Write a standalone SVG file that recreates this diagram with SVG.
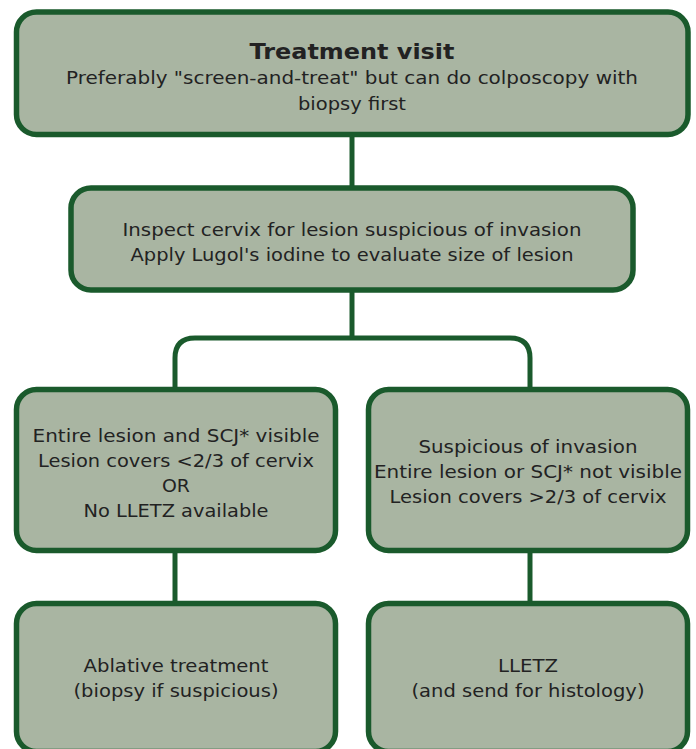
<svg xmlns="http://www.w3.org/2000/svg" width="696" height="749" viewBox="0 0 696 749">
<style>
.box{fill:#a9b5a2;stroke:#1a5a2c;stroke-width:5.5}
.con{fill:none;stroke:#1a5a2c;stroke-width:5}
text{font-family:"DejaVu Sans","Liberation Sans",sans-serif;font-size:18px;fill:#222;text-anchor:middle}
.b{font-weight:bold;font-size:21px}
</style>
<rect width="696" height="749" fill="#fff"/>
<g id="connectors">
<line class="con" x1="352" y1="136" x2="352" y2="188"/>
<line class="con" x1="352" y1="292" x2="352" y2="338"/>
<path class="con" d="M175 390 V358 Q175 338 195 338 H510 Q530 338 530 358 V390"/>
<line class="con" x1="175" y1="552" x2="175" y2="604"/>
<line class="con" x1="530" y1="552" x2="530" y2="604"/>
</g>
<g id="n1">
<rect class="box" x="16.5" y="12" width="671.5" height="122.5" rx="20"/>
<text class="b" x="352" y="59" textLength="205" lengthAdjust="spacingAndGlyphs">Treatment visit</text>
<text x="352" y="84" textLength="572" lengthAdjust="spacingAndGlyphs">Preferably "screen-and-treat" but can do colposcopy with</text>
<text x="352" y="110" textLength="108" lengthAdjust="spacingAndGlyphs">biopsy first</text>
</g>
<g id="n2">
<rect class="box" x="71" y="188" width="562" height="102" rx="20"/>
<text x="352" y="236" textLength="459" lengthAdjust="spacingAndGlyphs">Inspect cervix for lesion suspicious of invasion</text>
<text x="352" y="261" textLength="443" lengthAdjust="spacingAndGlyphs">Apply Lugol's iodine to evaluate size of lesion</text>
</g>
<g id="n3">
<rect class="box" x="16.5" y="389.5" width="319" height="161" rx="20"/>
<text x="176" y="442" textLength="287" lengthAdjust="spacingAndGlyphs">Entire lesion and SCJ* visible</text>
<text x="176" y="467" textLength="276" lengthAdjust="spacingAndGlyphs">Lesion covers &lt;2/3 of cervix</text>
<text x="176" y="492" textLength="28" lengthAdjust="spacingAndGlyphs">OR</text>
<text x="176" y="517" textLength="185" lengthAdjust="spacingAndGlyphs">No LLETZ available</text>
</g>
<g id="n4">
<rect class="box" x="368.5" y="389.5" width="319" height="161" rx="20"/>
<text x="528" y="453" textLength="219" lengthAdjust="spacingAndGlyphs">Suspicious of invasion</text>
<text x="528" y="478" textLength="308" lengthAdjust="spacingAndGlyphs">Entire lesion or SCJ* not visible</text>
<text x="528" y="503" textLength="277" lengthAdjust="spacingAndGlyphs">Lesion covers &gt;2/3 of cervix</text>
</g>
<g id="n5">
<rect class="box" x="16.5" y="603.5" width="319" height="148" rx="20"/>
<text x="176" y="672" textLength="185" lengthAdjust="spacingAndGlyphs">Ablative treatment</text>
<text x="176" y="697" textLength="205" lengthAdjust="spacingAndGlyphs">(biopsy if suspicious)</text>
</g>
<g id="n6">
<rect class="box" x="368.5" y="603.5" width="319" height="148" rx="20"/>
<text x="528" y="672" textLength="60" lengthAdjust="spacingAndGlyphs">LLETZ</text>
<text x="528" y="697" textLength="233" lengthAdjust="spacingAndGlyphs">(and send for histology)</text>
</g>
</svg>
